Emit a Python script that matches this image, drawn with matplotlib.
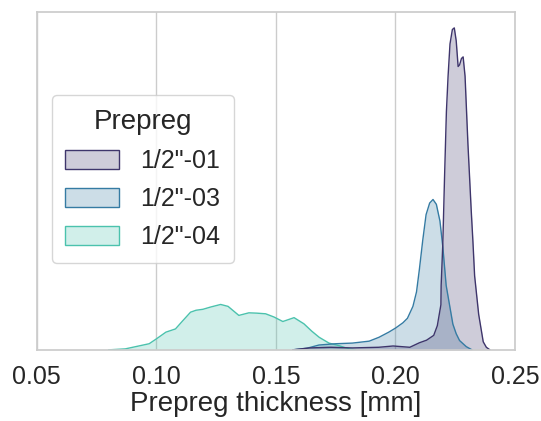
import numpy as np
import matplotlib
matplotlib.use("Agg")
import matplotlib.pyplot as plt
import seaborn as sns

# density curves per prepreg batch (thickness in mm, density in arbitrary units)
x_01 = [0.157, 0.164, 0.173, 0.182, 0.193, 0.199, 0.206, 0.210, 0.213, 0.216,
        0.2175, 0.219, 0.2191, 0.2198, 0.2205, 0.2213, 0.222, 0.2228, 0.2238,
        0.2246, 0.2254, 0.2262, 0.2268, 0.2276, 0.2283, 0.2291, 0.2303, 0.2317,
        0.2324, 0.2331, 0.2348, 0.2367, 0.238, 0.2395]
y_01 = [0, 0.6, 0.8, 0.6, 0.8, 1.2, 0.8, 2.2, 3.0, 4.5,
        7.5, 14.0, 20.0, 33.0, 53.0, 74.0, 85.0, 95.0, 99.5,
        100.0, 96.0, 88.0, 88.5, 90.5, 91.0, 85.0, 64.0, 43.0,
        33.5, 23.0, 11.0, 2.5, 0.8, 0]

x_03 = [0.157, 0.163, 0.168, 0.175, 0.182, 0.189, 0.1931, 0.1972, 0.2001,
        0.2031, 0.2050, 0.2073, 0.2088, 0.2100, 0.2114, 0.2128, 0.2143,
        0.2157, 0.2171, 0.2186, 0.2198, 0.2212, 0.2226, 0.2240, 0.2254,
        0.2268, 0.2296, 0.2320]
y_03 = [0, 0.5, 1.5, 1.9, 2.1, 2.7, 3.9, 5.5, 6.8,
        8.4, 9.8, 13.5, 18.0, 25.0, 34.0, 42.0, 45.6,
        46.7, 45.2, 40.0, 32.0, 20.0, 14.0, 8.0, 5.0,
        2.9, 1.0, 0]

x_04 = [0.080, 0.087, 0.092, 0.097, 0.100, 0.104, 0.108, 0.111, 0.1143,
        0.1166, 0.1195, 0.1227, 0.1269, 0.1300, 0.1345, 0.1387, 0.142,
        0.1457, 0.1492, 0.1529, 0.1576, 0.1617, 0.1650, 0.1681, 0.1722,
        0.1764, 0.1806, 0.1833]
y_04 = [0, 0.3, 1.1, 1.9, 3.4, 5.5, 6.5, 9.0, 11.7,
        12.3, 12.6, 13.3, 14.1, 13.5, 10.7, 11.5, 11.4,
        11.2, 10.2, 8.8, 10.0, 8.1, 5.8, 3.9, 2.1,
        1.3, 0.3, 0]

labels = ['1/2"-01', '1/2"-03', '1/2"-04']
xticks = [0.05, 0.10, 0.15, 0.20, 0.25]

sns.set_theme(style="whitegrid")
plt.rcParams['font.family'] = ['Liberation Sans', 'DejaVu Sans']
colors = sns.color_palette("mako", 3)

fig = plt.figure(figsize=(5.41, 4.21), dpi=100)
ax = fig.add_axes([0.068, 0.169, 0.884, 0.803])

series = [(x_01, y_01), (x_03, y_03), (x_04, y_04)]
handles = [None] * 3
# draw last group first so the first one sits on top
for i in [2, 1, 0]:
    xs, ys = series[i]
    ax.fill_between(xs, ys, color=colors[i], alpha=0.25, linewidth=0)
    ax.plot(xs, ys, color=colors[i], linewidth=1.0)
    handles[i] = plt.Rectangle((0, 0), 1, 1, facecolor=(*colors[i], 0.25),
                               edgecolor=colors[i], linewidth=1.0)

ax.set_xlim(0.05, 0.25)
ax.set_ylim(0, 105)
ax.set_yticks([])
ax.set_xticks(xticks)
ax.set_xticklabels([f"{t:.2f}" for t in xticks], fontsize=18, color=".15")
ax.tick_params(axis='x', pad=5)
ax.set_xlabel("Prepreg thickness [mm]", fontsize=20, color=".15", labelpad=1)
for s in ax.spines.values():
    s.set_color(".8")
    s.set_linewidth(1.25)
ax.grid(axis='x', color=".8", linewidth=1.0)

leg = ax.legend(handles, labels, title="Prepreg", loc="lower left",
                bbox_to_anchor=(0.031, 0.257), borderaxespad=0,
                fontsize=18, title_fontsize=20, handlelength=2.15,
                handleheight=0.75, handletextpad=0.85, labelspacing=0.56,
                borderpad=0.55, frameon=True)
leg.get_frame().set_edgecolor(".8")

fig.savefig("out.png", dpi=100)
